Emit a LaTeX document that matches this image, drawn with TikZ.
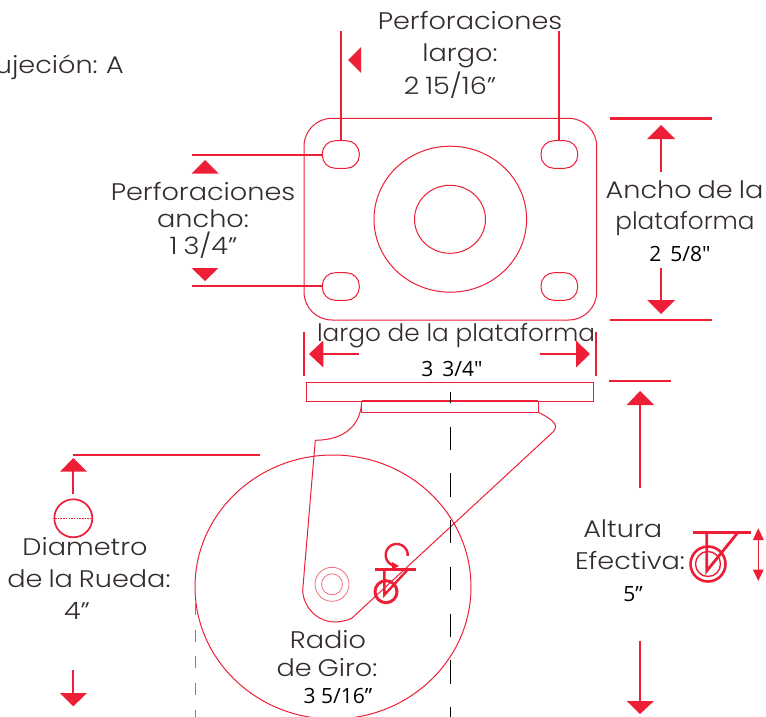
\documentclass[tikz,border=0pt]{standalone}
\usepackage{fontspec}
\setmainfont{Poppins Light}[FakeStretch=1.13,WordSpace=0.8]
\newfontfamily\narrowfont{Poppins Light}[FakeStretch=1.03]
\newfontfamily\numfont{Open Sans}
\definecolor{capred}{HTML}{ED1F37}
\definecolor{ink}{HTML}{332C2B}
\tikzset{
  x=1pt,y=-1pt,
  thinred/.style={draw=capred,line width=1pt},
  dimline/.style={draw=capred,line width=2pt},
  headfill/.style={fill=capred,draw=none},
  txt/.style={text=ink,font=\fontsize{24}{28}\selectfont,anchor=base,inner sep=0pt},
  numtxt/.style={text=black,font=\numfont\fontsize{21}{24}\selectfont,anchor=base,inner sep=0pt},
  dashblack/.style={draw=black,line width=1pt,dash pattern=on 23.3pt off 23.4pt,dash phase=11.7pt},
  dashgray/.style={draw=gray,line width=1pt,dash pattern=on 12pt off 14.7pt},
}
\begin{document}
\begin{tikzpicture}
\useasboundingbox (0,0) rectangle (766,717);
\clip (0,0) rectangle (766,717);
% top plate
\draw[thinred,rounded corners=28pt] (304,118.3) rectangle (596.7,320);
\draw[thinred,rounded corners=13pt] (322.3,140.7) rectangle (359.3,168.3);
\draw[thinred,rounded corners=13pt] (541,140.7) rectangle (577.7,168.3);
\draw[thinred,rounded corners=13pt] (322.3,272.7) rectangle (359.3,300.3);
\draw[thinred,rounded corners=13pt] (541,272.7) rectangle (577.7,300.3);
\draw[thinred] (450.3,219.2) ellipse [x radius=76.3,y radius=73];
\draw[thinred] (450,219.3) ellipse [x radius=35.5,y radius=34];
% texts
\node[txt,anchor=base east] (fix) at (124,74) {ujeción: A};
\node[txt] (pl1) at (470,30) {Perforaciones};
\node[txt] (pl2) at (460,62) {largo:};
\node[txt] (pl3) at (450,95) {2 15/16”};
\node[txt] (pa1) at (203,200) {Perforaciones};
\node[txt] (pa2) at (203,227) {ancho:};
\node[txt] (pa3) at (203.5,254) {1 3/4”};
\node[txt] (ap1) at (684.5,198) {Ancho de la};
\node[txt,font=\narrowfont\fontsize{24}{28}\selectfont] (ap2) at (685,229) {plataforma};
\node[numtxt] (apv) at (680,261) {2\, 5/8"};
\node[txt,font=\narrowfont\fontsize{24}{28}\selectfont] (lp) at (456,341) {largo de la plataforma};
\node[numtxt] (lpv) at (452,376) {3\, 3/4"};
\node[txt] (dr1) at (85,555) {Diametro};
\node[txt] (dr2) at (89,587) {de la Rueda:};
\node[txt] (dr3) at (77,619) {4”};
\node[txt] (rg1) at (328,648) {Radio};
\node[txt] (rg2) at (327,676) {de Giro:};
\node[numtxt] (rg3) at (338,703) {3 5/16”};
\node[txt] (ae1) at (622.7,537) {Altura};
\node[txt] (ae2) at (630,569) {Efectiva:};
\node[numtxt] (ae3) at (633,601) {5”};
% perforation dims
\draw[dimline] (341,31) -- (341,141);
\draw[dimline] (559.3,31) -- (559.3,141);
\fill[headfill] (348,60) -- (361,47) -- (361,73) -- cycle;
\draw[dimline] (192.3,154.5) -- (322.3,154.5);
\draw[dimline] (192.3,286) -- (322.3,286);
\fill[headfill] (205,160) -- (191.5,173.5) -- (218.5,173.5) -- cycle;
\fill[headfill] (205,281) -- (191.5,268) -- (218.5,268) -- cycle;
% width dims
\draw[dimline,line width=2.6pt] (610,118.5) -- (712,118.5);
\draw[dimline,line width=2.6pt] (610,320) -- (712,320);
\draw[dimline] (661,172) -- (661,135);
\fill[headfill] (661,125) -- (647,139) -- (675,139) -- cycle;
\draw[dimline] (661,268) -- (661,302);
\fill[headfill] (661,314) -- (647,300) -- (675,300) -- cycle;
% length dims
\draw[dimline] (304,332) -- (304,375.7);
\draw[dimline] (596,332) -- (596,375.7);
\draw[dimline] (322,354) -- (359,354);
\fill[headfill] (309,354) -- (323.3,340.5) -- (323.3,367.5) -- cycle;
\draw[dimline] (540,354) -- (577,354);
\fill[headfill] (590,354) -- (576,340.5) -- (576,367.5) -- cycle;
% mount plate
\draw[thinred] (306.7,382.3) rectangle (593,401);
\draw[thinred] (361.7,401) rectangle (538.3,412.3);
\draw[capred,line width=1.8pt] (361.7,401) -- (538.3,401);
% fork
\draw[thinred] (361.7,401) .. controls (361,425) and (345,440) .. (315.3,440.3) -- (302.7,590)
  .. controls (302.7,608) and (322,631) .. (351.7,618.3) -- (553.3,431.7)
  .. controls (558,426) and (556,421) .. (538.3,412.3);
% wheel
\draw[thinred] (333,587) ellipse [x radius=138,y radius=132];
% hub
\draw[capred!65,line width=0.8pt] (332,584.3) circle (17);
\draw[capred!65,line width=0.8pt] (332,584.3) circle (10.5);
% centre dashes
\draw[dashblack] (450,391.7) -- (450,717);
\draw[dashgray] (195,603) -- (195,717);
% swivel icon
\draw[capred,line width=2.4pt] (375,569.3) -- (415.7,569.3);
\draw[capred,line width=2.4pt,line join=miter] (384.3,569.3) -- (384.3,595) -- (408,569.3);
\draw[capred,line width=3pt] (386,591.7) circle (11);
\draw[capred,line width=2.4pt] plot[domain=5:-250,samples=40] ({396.7+11*cos(\x)},{555+11*sin(\x)});
\fill[capred] (399,566) -- (392,562) -- (392,569.5) -- cycle;
% diameter
\draw[dimline] (73,454.7) -- (260,454.7);
\draw[dimline] (73.3,494) -- (73.3,468);
\fill[headfill] (73.3,458) -- (60,471.7) -- (87,471.7) -- cycle;
\draw[capred,line width=1.7pt] (73.3,518.3) circle (19);
\draw[capred,line width=1.5pt,dash pattern=on 1.5pt off 1.2pt] (55,518.3) -- (91,518.3);
\draw[dimline] (73.3,670) -- (73.3,696);
\fill[headfill] (73.3,706.3) -- (60,693) -- (87,693) -- cycle;
% effective height
\draw[dimline] (609,381) -- (671,381);
\draw[dimline] (640,488) -- (640,402);
\fill[headfill] (640,391) -- (626.7,405) -- (654,405) -- cycle;
\draw[dimline] (640,641) -- (640,703);
\fill[headfill] (640,714) -- (626.7,701) -- (654,701) -- cycle;
% height icon
\draw[capred,line width=2.8pt] (692.7,532.3) -- (751,532.3);
\draw[capred,line width=2.8pt] (706.7,532.3) -- (706.7,571) -- (738,532.3);
\draw[capred,line width=2.6pt] (708,564) circle (17.5);
\draw[capred,line width=1.4pt] (708,564) circle (12.5);
\draw[capred,line width=1.6pt] (758.3,535) -- (758.3,575);
\fill[capred] (758.3,528.3) -- (752.8,540) -- (763.8,540) -- cycle;
\fill[capred] (758.3,581) -- (752.8,569.5) -- (763.8,569.5) -- cycle;
\end{tikzpicture}
\end{document}
